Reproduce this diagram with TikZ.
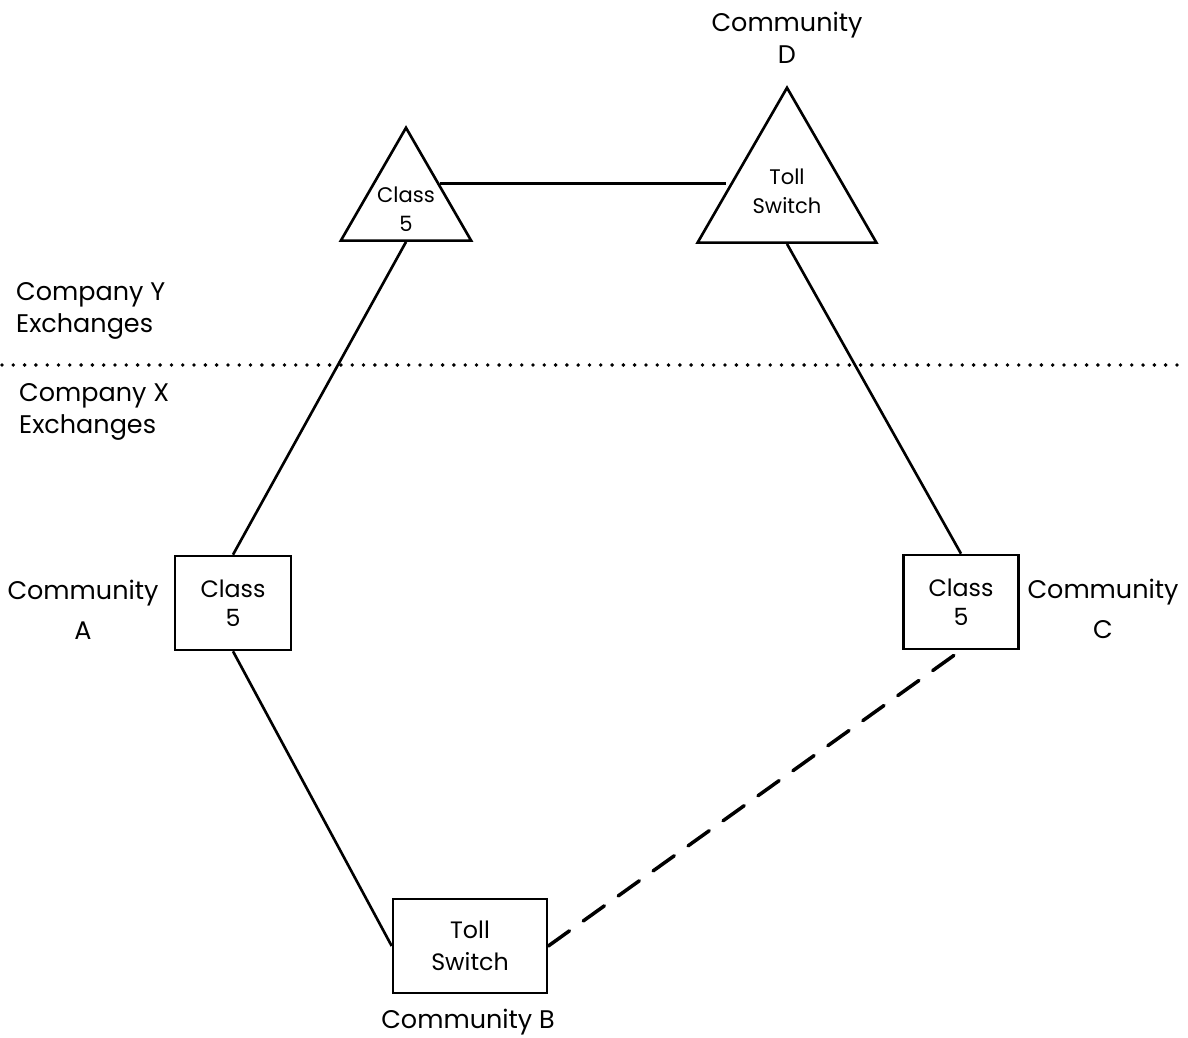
\documentclass[tikz,border=0pt]{standalone}
\usepackage{fontspec}
\setmainfont{Poppins}
\usetikzlibrary{shapes.geometric}

\begin{document}
\begin{tikzpicture}[x=0.02cm, y=-0.02cm,
    sw/.style={draw, line width=1.5pt, inner sep=0pt, align=center},
    tri/.style={sw, regular polygon, regular polygon sides=3, inner sep=-8pt, font=\fontsize{12}{16.5}\selectfont},
    box/.style={sw, rectangle, minimum height=1.88cm, font=\fontsize{13.5}{16.5}\selectfont},
    txt/.style={align=center, font=\fontsize{14.5}{18}\selectfont},
    link/.style={line width=1.5pt}]
    \useasboundingbox (0,0) rectangle (1188,1038);
    \node[tri, minimum size=3.01cm] (Y5) at (406,203) {\rule{0pt}{16pt}Class\\5};
    \node[tri, minimum size=4.13cm] (D) at (787,191) {Toll\\Switch};
    \node[box, minimum width=2.32cm] (A) at (233,603) {Class\\5};
    \node[box, minimum width=2.30cm] (C) at (961,602) {Class\\5};
    \node[box, minimum width=3.08cm] (B) at (470,946) {Toll\\[2pt]Switch};
    \node[txt] (labD) at (787,38) {Community\\D};
    \node[txt] (labA) at (83,610) {Community\\[5pt]A};
    \node[txt] (labC) at (1103,609) {Community\\[5pt]C};
    \node[txt] (labB) at (468,1022) {Community B};
    \node[txt, anchor=west, align=left] (compY) at (10,311) {Company Y\\Exchanges};
    \node[txt, anchor=west, align=left] (compX) at (13,412) {Company X\\Exchanges};
    \draw[line width=2.2pt, line cap=round, dash pattern=on 0pt off 0.226cm] (2,365) -- (1186,365);
    \draw[link] (Y5.side 3) -- (Y5.side 3 -| D.west);
    \draw[link] (Y5.side 2) -- (A.north);
    \draw[link] (D.side 2) -- (C.north);
    \draw[link] (A.south) -- (B.west);
    \draw[line width=2pt, line cap=round, dash pattern=on 0.52cm off 0.34cm] (B.east) -- (C.south);
\end{tikzpicture}
\end{document}
